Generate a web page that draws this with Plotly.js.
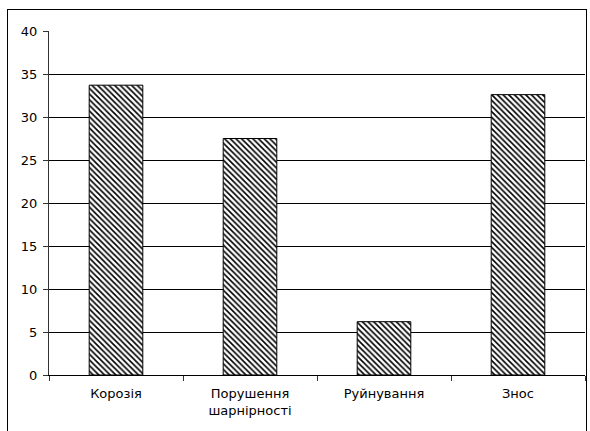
<!DOCTYPE html>
<html>
<head>
<meta charset="utf-8">
<script src="https://cdn.plot.ly/plotly-3.0.1.min.js"></script>
<style>
  html, body { margin: 0; padding: 0; background: #fff; overflow: hidden; }
  #wrap { position: relative; width: 590px; height: 431px; }
  #chart { position: absolute; left: 0; top: 0; width: 590px; height: 431px; }
  #frame { position: absolute; left: 7px; top: 9px; width: 578px; height: 430px; border: 1px solid #000; pointer-events: none; }
</style>
</head>
<body>
<div id="wrap">
  <div id="chart"></div>
  <div id="frame"></div>
</div>
<script>
const categories = ["Корозія", "Порушення<br>шарнірності", "Руйнування", "Знос"];
const values = [33.7, 27.5, 6.2, 32.6];
const yTicks = [0, 5, 10, 15, 20, 25, 30, 35, 40];

const trace = {
  type: "bar",
  x: categories,
  y: values,
  width: 0.4,
  marker: {
    color: "#ffffff",
    line: { color: "#000000", width: 1 },
    pattern: { shape: "\\", fgcolor: "#000000", bgcolor: "#ffffff", size: 4, solidity: 0.4 }
  },
  hoverinfo: "none"
};

const layout = {
  width: 590,
  height: 431,
  margin: { l: 49, r: 5, t: 31, b: 56 },
  paper_bgcolor: "#ffffff",
  plot_bgcolor: "#ffffff",
  showlegend: false,
  font: { family: "DejaVu Sans, sans-serif", size: 13, color: "#000" },
  xaxis: {
    type: "category",
    range: [-0.5, 3.5],
    showline: true,
    linecolor: "#000",
    linewidth: 1,
    ticks: "outside",
    tickson: "boundaries",
    ticklen: 5,
    tickcolor: "#333",
    showgrid: false,
    zeroline: false,
    tickfont: { size: 13, color: "#000" },
    ticklabelstandoff: 6
  },
  yaxis: {
    range: [0, 40],
    tickvals: yTicks,
    ticktext: yTicks.map(String),
    showline: true,
    linecolor: "#333",
    linewidth: 1,
    ticks: "outside",
    ticklen: 5,
    tickcolor: "#333",
    showgrid: true,
    gridcolor: "#000",
    gridwidth: 1,
    zeroline: false,
    tickfont: { size: 13, color: "#000" },
    ticklabelstandoff: 3
  }
};

Plotly.newPlot("chart", [trace], layout, { displayModeBar: false, staticPlot: true });
</script>
</body>
</html>
